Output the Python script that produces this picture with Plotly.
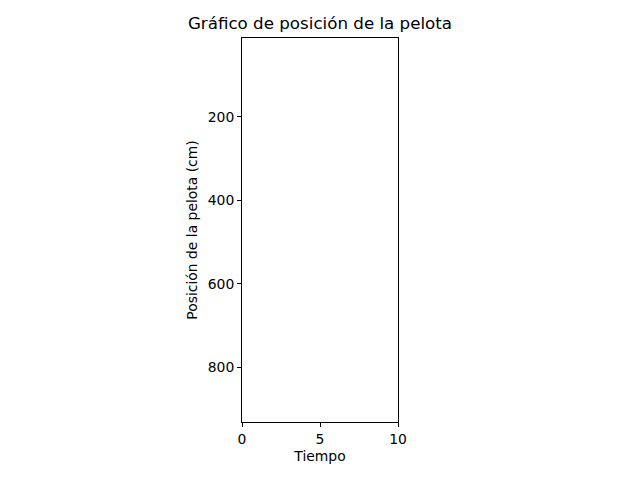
import plotly.graph_objects as go

tiempo = []
posicion = []
x_ticks = [0, 5, 10]
y_ticks = [200, 400, 600, 800]

fs = 13.9
font = dict(family="DejaVu Sans", size=fs, color="black")

fig = go.Figure()
fig.add_trace(go.Scatter(x=tiempo, y=posicion, mode="lines", showlegend=False))

fig.update_layout(
    width=640, height=480,
    margin=dict(l=242, r=242, t=38, b=58),
    paper_bgcolor="white", plot_bgcolor="white",
    font=font,
    title=dict(text="Gráfico de posición de la pelota", x=0.5, xanchor="center",
               y=1 - 23 / 480, yanchor="middle", yref="container",
               font=dict(family="DejaVu Sans", size=16.7, color="black")),
    showlegend=False,
)
fig.update_xaxes(range=[0, 10], tickvals=x_ticks, ticks="outside", ticklen=4, tickwidth=1,
                 tickcolor="black", showline=True, linecolor="black", linewidth=1, mirror=True,
                 showgrid=False, zeroline=False, tickfont=font,
                 title=dict(text="Tiempo", standoff=5, font=font))
fig.update_yaxes(range=[931, 11], tickvals=y_ticks, ticks="outside", ticklen=4, tickwidth=1,
                 tickcolor="black", showline=True, linecolor="black", linewidth=1, mirror=True,
                 showgrid=False, zeroline=False, tickfont=font,
                 title=dict(text="Posición de la pelota (cm)", standoff=6, font=font))
fig.write_html("out.html")
